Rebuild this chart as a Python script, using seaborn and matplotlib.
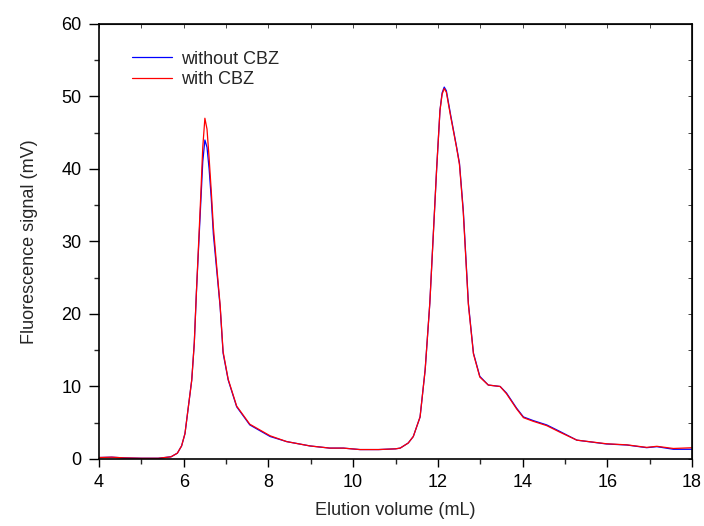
import matplotlib
matplotlib.use("Agg")
import matplotlib.pyplot as plt
import seaborn as sns
import pandas as pd
from matplotlib.ticker import MultipleLocator

# elution volume (mL)
volume = [4.0, 4.3, 4.6, 5.0, 5.4, 5.7, 5.85, 5.95, 6.03, 6.11, 6.19, 6.25, 6.3, 6.35,
          6.4, 6.45, 6.5, 6.55, 6.6, 6.65, 6.7, 6.78, 6.86, 6.93, 7.05, 7.25, 7.56,
          8.04, 8.43, 8.98, 9.45, 9.77, 10.16, 10.6, 11.0, 11.11, 11.3, 11.42, 11.58,
          11.70, 11.81, 11.89, 11.97, 12.05, 12.1, 12.15, 12.2, 12.3, 12.44, 12.51,
          12.60, 12.72, 12.84, 12.99, 13.19, 13.47, 13.62, 13.86, 14.02, 14.25, 14.57,
          14.88, 15.28, 15.98, 16.46, 16.93, 17.17, 17.56, 18.0]

# fluorescence (mV)
without_cbz = [0.2, 0.25, 0.15, 0.1, 0.1, 0.3, 0.8, 1.8, 3.5, 7.2, 10.9, 16, 23, 29,
               35, 41, 44, 43, 40, 36, 31, 26, 21, 14.6, 10.9, 7.2, 4.7,
               3.1, 2.4, 1.8, 1.5, 1.5, 1.3, 1.3, 1.4, 1.5, 2.2, 3.1, 5.8,
               12.3, 21.5, 30.7, 39.9, 48.1, 50.5, 51.3, 50.8, 47.5, 43.1, 40.8,
               34.3, 21.5, 14.6, 11.4, 10.2, 10.0, 9.1, 7.0, 5.8, 5.3, 4.7,
               3.8, 2.6, 2.07, 1.93, 1.56, 1.7, 1.34, 1.34]

with_cbz = [0.2, 0.25, 0.15, 0.1, 0.1, 0.3, 0.8, 1.8, 3.5, 7.2, 10.9, 16, 23, 29.5,
            36, 43, 47, 45.5, 41.5, 37, 32, 26.5, 21.2, 14.8, 11.0, 7.3, 4.8,
            3.2, 2.4, 1.8, 1.5, 1.5, 1.3, 1.3, 1.4, 1.5, 2.2, 3.1, 5.8,
            12.3, 21.5, 30.7, 39.9, 48.1, 50.3, 51.1, 50.6, 47.3, 43.0, 40.6,
            34.0, 21.3, 14.5, 11.3, 10.2, 10.0, 9.0, 6.9, 5.7, 5.2, 4.6,
            3.7, 2.6, 2.1, 1.95, 1.6, 1.75, 1.45, 1.55]

df = pd.DataFrame({
    "volume": volume * 2,
    "signal": without_cbz + with_cbz,
    "sample": ["without CBZ"] * len(volume) + ["with CBZ"] * len(volume),
})

sns.set_style("ticks")
plt.rcParams["font.family"] = ["Liberation Sans", "DejaVu Sans"]

fig = plt.figure(figsize=(7.04, 5.26), dpi=100)
ax = fig.add_axes([0.1406, 0.1274, 0.8424, 0.827])

sns.lineplot(data=df, x="volume", y="signal", hue="sample",
             palette={"without CBZ": "#0000ff", "with CBZ": "#ff0000"},
             linewidth=0.9, ax=ax, sort=False)

ax.set_xlim(4, 18)
ax.set_ylim(0, 60)
ax.xaxis.set_major_locator(MultipleLocator(2))
ax.xaxis.set_minor_locator(MultipleLocator(1))
ax.yaxis.set_major_locator(MultipleLocator(10))
ax.yaxis.set_minor_locator(MultipleLocator(5))
ax.tick_params(which="major", direction="out", width=1, labelsize=13,
               colors="black", pad=5)
ax.tick_params(axis="x", which="major", length=6)
ax.tick_params(axis="y", which="major", length=7.5)
ax.tick_params(which="minor", direction="out", length=3.5, width=1)
for s in ax.spines.values():
    s.set_linewidth(1.2)
    s.set_color("black")

# inward ticks on top and right
axt = ax.secondary_xaxis("top")
axt.xaxis.set_major_locator(MultipleLocator(2))
axt.xaxis.set_minor_locator(MultipleLocator(1))
axt.tick_params(which="both", direction="in", length=3, width=0.6, labeltop=False)
axr = ax.secondary_yaxis("right")
axr.yaxis.set_major_locator(MultipleLocator(10))
axr.yaxis.set_minor_locator(MultipleLocator(5))
axr.tick_params(which="both", direction="in", length=3, width=0.6, labelright=False)

ax.set_xlabel("Elution volume (mL)", fontsize=13, labelpad=8)
ax.set_ylabel("Fluorescence signal (mV)", fontsize=13, labelpad=17)

ax.legend(loc="upper left", bbox_to_anchor=(0.044, 0.955), frameon=False,
          fontsize=13, handlelength=2.2, handletextpad=0.5, labelspacing=0.18,
          borderaxespad=0, title=None)

fig.savefig("out.png", dpi=100)
